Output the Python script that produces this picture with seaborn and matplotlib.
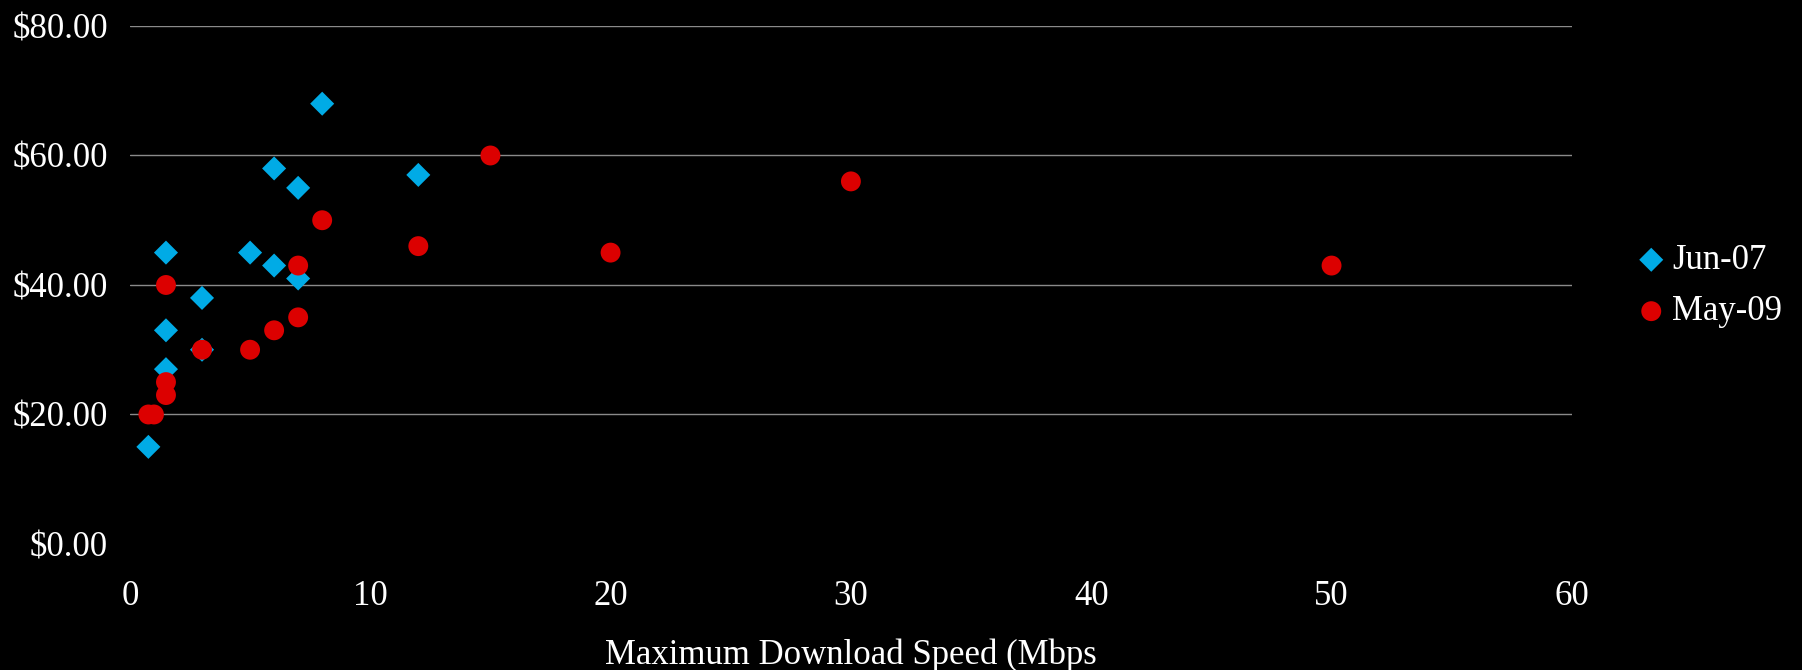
import matplotlib
matplotlib.use("Agg")
import matplotlib.pyplot as plt
import seaborn as sns
import pandas as pd
from matplotlib.ticker import FuncFormatter

# Broadband plans: maximum download speed (Mbps) vs monthly price (USD)
jun07_speed = [8, 6, 7, 12, 1.5, 5, 6, 7, 3, 1.5, 3, 1.5, 0.768]
jun07_price = [68, 58, 55, 57, 45, 45, 43, 41, 38, 33, 30, 27, 15]

may09_speed = [8, 12, 7, 1.5, 7, 6, 5, 3, 1.5, 1.5, 0.768, 1, 15, 20, 30, 50]
may09_price = [50, 46, 43, 40, 35, 33, 30, 30, 25, 23, 20, 20, 60, 45, 56, 43]

series_names = ["Jun-07", "May-09"]
x_ticks = [0, 10, 20, 30, 40, 50, 60]
y_ticks = [0, 20, 40, 60, 80]

sns.set_theme(style="dark")
plt.rcParams["font.family"] = ["Liberation Serif", "DejaVu Serif"]

fig = plt.figure(figsize=(18.02, 6.70), dpi=100, facecolor="black")
ax = fig.add_axes([0.0721, 0.1881, 0.8002, 0.7731])
ax.set_facecolor("black")

df07 = pd.DataFrame({"speed": jun07_speed, "price": jun07_price})
df09 = pd.DataFrame({"speed": may09_speed, "price": may09_price})

sns.scatterplot(data=df07, x="speed", y="price", ax=ax, marker="D", s=150,
                color="#00ABE6", edgecolor="none", linewidth=0,
                label=series_names[0], clip_on=False, zorder=3)
sns.scatterplot(data=df09, x="speed", y="price", ax=ax, marker="o", s=205,
                color="#DC0000", edgecolor="none", linewidth=0,
                label=series_names[1], clip_on=False, zorder=4)

ax.set_xlim(0, 60)
ax.set_ylim(0, 80)
ax.set_xticks(x_ticks)
ax.set_yticks(y_ticks)
ax.yaxis.set_major_formatter(FuncFormatter(lambda v, p: f"${v:,.2f}"))

for s in ax.spines.values():
    s.set_visible(False)

ax.tick_params(axis="both", length=0, labelsize=25, colors="white")
ax.tick_params(axis="x", pad=26)
ax.tick_params(axis="y", pad=16)

ax.grid(False)
ax.yaxis.grid(True, color="#8a8a8a", linewidth=1.0)
ax.set_axisbelow(True)
ax.get_ygridlines()[0].set_visible(False)

ax.set_xlabel("Maximum Download Speed (Mbps", fontsize=25, color="white", labelpad=18)
ax.set_ylabel("")

leg = ax.legend(loc="center left", bbox_to_anchor=(0.899, 0.573),
                bbox_transform=fig.transFigure, frameon=False,
                fontsize=25, handletextpad=0.1, labelspacing=0.53,
                borderaxespad=0, handlelength=1.0)
for t in leg.get_texts():
    t.set_color("white")

fig.savefig("out.png", dpi=100, facecolor="black")
